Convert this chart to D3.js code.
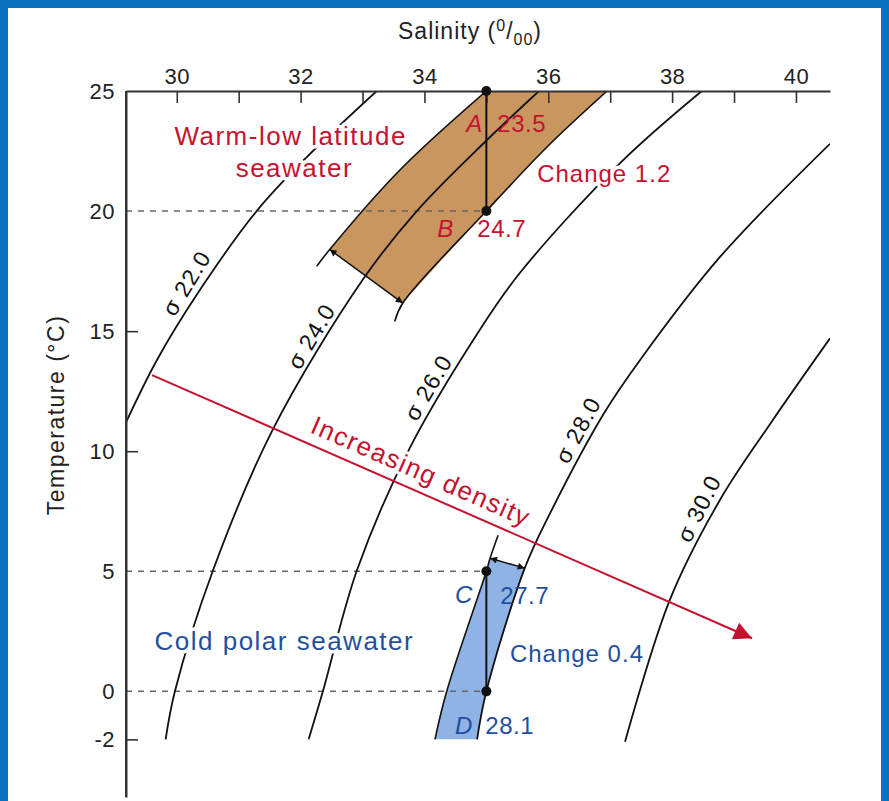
<!DOCTYPE html>
<html>
<head>
<meta charset="utf-8">
<script src="https://cdnjs.cloudflare.com/ajax/libs/d3/7.8.5/d3.min.js"></script>
<style>
	body { margin: 0; background: #fff; }
	svg { display: block; font-family: "Liberation Sans", Arial, Helvetica, sans-serif; }
</style>
</head>
<body>
<div id="chart"></div>
<script>
// axis ticks
var salinityTicks = [30, 31, 32, 33, 34, 35, 36, 37, 38, 39, 40];
var salinityLabels = [30, 32, 34, 36, 38, 40];
var tempTicks = [25, 20, 15, 10, 5, 0, -2];
var dashedTemps = [20, 5, 0];

// isopycnals: [salinity, temperature]
var sigma22 = [[33.23, 25], [32.10, 22.25], [31.29, 20.0], [30.37, 16.7], [29.68, 13.8], [29.18, 11.2]];
var sigma24 = [[35.85, 25], [35.01, 22.96], [33.89, 20.04], [33.0, 17.13], [31.55, 10.9], [30.58, 5.0], [29.97, 0], [29.82, -2.0]];
var sigma26 = [[38.48, 25], [37.16, 22.0], [35.54, 17.42], [34.89, 15.04], [33.76, 10.12], [32.91, 5.04], [32.36, 0], [32.13, -2.0]];
var sigma28 = [[40.55, 22.8], [38.77, 18.08], [37.48, 13.79], [36.9, 11.58], [36.03, 7.42], [35.62, 5.13], [35.0, 0], [34.85, -2.0]];
var sigma30 = [[40.55, 14.7], [39.6, 11.2], [38.77, 7.96], [37.96, 3.79], [37.24, -2.1]];
var sigmaNames = ["22.0", "24.0", "26.0", "28.0", "30.0"];

// band edges
var sigma235 = [[35.0, 25], [33.6, 21.7], [32.47, 18.4], [32.26, 17.7]];
var sigma247 = [[36.95, 25], [35.98, 22.67], [35.0, 20], [33.65, 16.17], [33.52, 15.4]];
var sigma277 = [[35.19, 6.5], [35.06, 5.54], [35.0, 5.0], [34.36, 0], [34.17, -2.0]];
var warmEnd = [[32.47, 18.4], [33.65, 16.17]];
var coldTop = [[35.06, 5.54], [35.62, 5.13]];

// sample waters
var pointNames = ["A", "B", "C", "D"];
var pointSalinity = [35, 35, 35, 35];
var pointTemp = [25, 20, 5, 0];
var pointSigma = ["23.5", "24.7", "27.7", "28.1"];
var warmChange = "1.2", coldChange = "0.4";

// density arrow
var arrowFrom = [29.6, 13.17], arrowTo = [39.29, 2.21];

function renderChart() {
	var W = 889, H = 801;
	var red = "#c41230", blue = "#1f4f9f";

	var svg = d3.select("#chart")
		.append("svg")
		.attr("width", W)
		.attr("height", H);

	// blue frame
	svg.append("rect").attr("width", W).attr("height", H).attr("fill", "#0a70c0");
	svg.append("rect").attr("x", 8).attr("y", 8).attr("width", W - 16).attr("height", H - 8).attr("fill", "#fff");

	var x = d3.scaleLinear().domain([29.18, 40.55]).range([126, 830]);
	var y = d3.scaleLinear().domain([-4.4, 25]).range([797, 91]);

	var defs = svg.append("defs");
	defs.append("clipPath").attr("id", "plot")
		.append("rect")
		.attr("x", x.range()[0]).attr("y", y.range()[1])
		.attr("width", x.range()[1] - x.range()[0])
		.attr("height", y.range()[0] - y.range()[1]);

	defs.append("marker")
		.attr("id", "redhead")
		.attr("viewBox", "0 -5 10 10")
		.attr("refX", 10).attr("refY", 0)
		.attr("markerUnits", "userSpaceOnUse")
		.attr("markerWidth", 26).attr("markerHeight", 18)
		.attr("orient", "auto")
		.append("path").attr("d", "M0,-5L10,0L0,5Z").attr("fill", red);

	defs.append("marker")
		.attr("id", "blackhead")
		.attr("viewBox", "0 -5 10 10")
		.attr("refX", 10).attr("refY", 0)
		.attr("markerUnits", "userSpaceOnUse")
		.attr("markerWidth", 9).attr("markerHeight", 7)
		.attr("orient", "auto-start-reverse")
		.append("path").attr("d", "M0,-5L10,0L0,5Z").attr("fill", "#111");

	var line = d3.line()
		.x(function (d) { return x(d[0]); })
		.y(function (d) { return y(d[1]); })
		.curve(d3.curveCatmullRom);

	// shaded bands
	svg.append("path")
		.attr("d", line(sigma235.slice(0, 3)) + line(sigma247.slice(0, 4).reverse()).replace(/^M/, "L") + "Z")
		.attr("fill", "#c99660");

	svg.append("path")
		.attr("d", line(sigma277.slice(1)) + line(sigma28.slice(5).reverse()).replace(/^M/, "L") + "Z")
		.attr("fill", "#8fb3e5");

	// dashed guides
	svg.selectAll("line.guide")
		.data(dashedTemps)
		.enter()
		.append("line")
		.attr("class", "guide")
		.attr("x1", x.range()[0])
		.attr("x2", x(35))
		.attr("y1", function (d) { return y(d); })
		.attr("y2", function (d) { return y(d); })
		.attr("stroke", "#666")
		.attr("stroke-width", 1.5)
		.attr("stroke-dasharray", "6,6");

	// isopycnals
	var curves = [sigma22, sigma24, sigma26, sigma28, sigma30];
	var g = svg.append("g").attr("clip-path", "url(#plot)");
	g.selectAll("path.sigma")
		.data(curves)
		.enter()
		.append("path")
		.attr("class", "sigma")
		.attr("d", line)
		.attr("fill", "none")
		.attr("stroke", "#111")
		.attr("stroke-width", 1.8);

	g.selectAll("path.edge")
		.data([sigma235, sigma247, sigma277])
		.enter()
		.append("path")
		.attr("class", "edge")
		.attr("d", line)
		.attr("fill", "none")
		.attr("stroke", "#111")
		.attr("stroke-width", 1.6);

	// width arrows at band ends
	svg.selectAll("line.width")
		.data([warmEnd, coldTop])
		.enter()
		.append("line")
		.attr("class", "width")
		.attr("x1", function (d) { return x(d[0][0]); })
		.attr("y1", function (d) { return y(d[0][1]); })
		.attr("x2", function (d) { return x(d[1][0]); })
		.attr("y2", function (d) { return y(d[1][1]); })
		.attr("stroke", "#111")
		.attr("stroke-width", 1.5)
		.attr("marker-start", "url(#blackhead)")
		.attr("marker-end", "url(#blackhead)");

	// increasing density arrow
	svg.append("line")
		.attr("x1", x(arrowFrom[0])).attr("y1", y(arrowFrom[1]))
		.attr("x2", x(arrowTo[0])).attr("y2", y(arrowTo[1]))
		.attr("stroke", red)
		.attr("stroke-width", 2)
		.attr("marker-end", "url(#redhead)");

	// axes
	var xAxis = svg.append("g")
		.attr("transform", "translate(0," + y(25) + ")")
		.call(d3.axisTop(x).tickValues(salinityTicks).tickSize(-12).tickSizeOuter(0).tickPadding(7)
			.tickFormat(function (d) { return salinityLabels.indexOf(d) >= 0 ? d : ""; }));

	var yAxis = svg.append("g")
		.attr("transform", "translate(" + x.range()[0] + ",0)")
		.call(d3.axisLeft(y).tickValues(tempTicks).tickSize(-12).tickSizeOuter(0).tickPadding(11)
			.tickFormat(function (d) { return String(d); }));

	yAxis.selectAll(".tick line")
		.filter(function (d) { return dashedTemps.indexOf(d) >= 0 || d == 25; })
		.remove();

	[xAxis, yAxis].forEach(function (ax) {
		ax.select(".domain").attr("stroke", "#333").attr("stroke-width", 2);
		ax.selectAll(".tick line").attr("stroke", "#333").attr("stroke-width", 1.6);
		ax.selectAll(".tick text")
			.attr("fill", "#222")
			.style("font-size", "22px")
			.style("letter-spacing", "0.5px")
			.style("font-family", "Liberation Sans, Arial, sans-serif");
	});

	svg.append("line")
		.attr("x1", x.range()[0]).attr("x2", x.range()[0])
		.attr("y1", y(25)).attr("y2", y.range()[0])
		.attr("stroke", "#333").attr("stroke-width", 2);

	// axis titles
	var sal = svg.append("text")
		.attr("x", 470)
		.attr("y", 39)
		.attr("text-anchor", "middle")
		.style("font-size", "23px")
		.style("letter-spacing", "1px")
		.attr("fill", "#222");
	sal.append("tspan").text("Salinity (");
	sal.append("tspan").attr("dy", -8).style("font-size", "16px").text("0");
	sal.append("tspan").attr("dy", 8).text("/");
	sal.append("tspan").attr("dy", 6).style("font-size", "16px").text("00");
	sal.append("tspan").attr("dy", -6).text(")");

	svg.append("text")
		.attr("transform", "translate(64," + 415 + ") rotate(-90)")
		.attr("text-anchor", "middle")
		.style("font-size", "23px")
		.style("letter-spacing", "1.5px")
		.attr("fill", "#222")
		.text("Temperature (\u00B0C)");

	// sample verticals and dots
	svg.selectAll("line.pair")
		.data([[0, 1], [2, 3]])
		.enter()
		.append("line")
		.attr("class", "pair")
		.attr("x1", function (d) { return x(pointSalinity[d[0]]); })
		.attr("x2", function (d) { return x(pointSalinity[d[1]]); })
		.attr("y1", function (d) { return y(pointTemp[d[0]]); })
		.attr("y2", function (d) { return y(pointTemp[d[1]]); })
		.attr("stroke", "#111")
		.attr("stroke-width", 2);

	svg.selectAll("circle.pt")
		.data(pointNames)
		.enter()
		.append("circle")
		.attr("class", "pt")
		.attr("cx", function (d, i) { return x(pointSalinity[i]); })
		.attr("cy", function (d, i) { return y(pointTemp[i]); })
		.attr("r", 5)
		.attr("fill", "#111");

	// sigma labels along the curves
	function labelSpot(pts, t) {
		for (var i = 0; i < pts.length - 1; i++) {
			var a = pts[i], b = pts[i + 1];
			if (t <= a[1] && t >= b[1]) {
				var f = (a[1] - t) / (a[1] - b[1]);
				var ax = x(a[0]), ay = y(a[1]), bx = x(b[0]), by = y(b[1]);
				return {
					x: ax + f * (bx - ax),
					y: ay + f * (by - ay),
					angle: Math.atan2(ay - by, ax - bx) * 180 / Math.PI
				};
			}
		}
	}
	var labelTemps = [16.67, 14.46, 12.33, 10.58, 7.33];
	svg.selectAll("text.sig")
		.data(curves)
		.enter()
		.append("text")
		.attr("class", "sig")
		.attr("transform", function (d, i) {
			var p = labelSpot(d, labelTemps[i]);
			return "translate(" + p.x + "," + p.y + ") rotate(" + p.angle + ")";
		})
		.attr("y", -7)
		.attr("text-anchor", "middle")
		.style("font-size", "23px")
		.style("letter-spacing", "1px")
		.attr("fill", "#111")
		.text(function (d, i) { return "\u03C3 " + sigmaNames[i]; });

	// annotation helper
	function note(txt, s, t, color, size, opts) {
		opts = opts || {};
		var el = svg.append("text")
			.attr("x", x(s) + (opts.dx || 0))
			.attr("y", y(t) + (opts.dy || 0))
			.attr("text-anchor", opts.anchor || "start")
			.attr("fill", color)
			.style("font-size", size + "px")
			.style("letter-spacing", (opts.ls || 0) + "px")
			.text(txt);
		if (opts.italic) el.style("font-style", "italic");
		if (opts.halo) {
			el.attr("stroke", "#fff")
				.attr("stroke-width", 7)
				.attr("stroke-linejoin", "round")
				.style("paint-order", "stroke");
		}
		return el;
	}

	note("Warm-low latitude", 31.84, 22.75, red, 26, { anchor: "middle", ls: 1.5, halo: true });
	note("seawater", 31.9, 21.42, red, 26, { anchor: "middle", ls: 1.5, halo: true });
	note("Change " + warmChange, 35.82, 21.2, red, 24, { ls: 1, halo: true });
	note("Cold polar seawater", 29.64, 1.71, blue, 26, { ls: 1.5, halo: true });
	note("Change " + coldChange, 35.38, 1.21, blue, 24, { ls: 1, halo: true });

	// point labels
	var nameOff = [[-4, 41], [-33, 26], [-14, 32], [-14, 43]];
	var valOff = [[11, 41], [-9, 26], [14, 33], [-1, 43]];
	pointNames.forEach(function (nm, i) {
		var c = i < 2 ? red : blue;
		note(nm, pointSalinity[i], pointTemp[i], c, 24, { anchor: "end", italic: true, dx: nameOff[i][0], dy: nameOff[i][1] });
		note(pointSigma[i], pointSalinity[i], pointTemp[i], c, 24, { ls: 0.5, dx: valOff[i][0], dy: valOff[i][1] });
	});

	// text along the density arrow
	var ax0 = x(arrowFrom[0]), ay0 = y(arrowFrom[1]), ax1 = x(arrowTo[0]), ay1 = y(arrowTo[1]);
	var ang = Math.atan2(ay1 - ay0, ax1 - ax0) * 180 / Math.PI;
	var mx = ax0 + 0.435 * (ax1 - ax0), my = ay0 + 0.435 * (ay1 - ay0);
	svg.append("text")
		.attr("transform", "translate(" + mx + "," + my + ") rotate(" + ang + ")")
		.attr("y", -11)
		.attr("text-anchor", "middle")
		.attr("fill", red)
		.style("font-size", "26px")
		.style("letter-spacing", "1.5px")
		.attr("stroke", "#fff")
		.attr("stroke-width", 6)
		.attr("stroke-linejoin", "round")
		.style("paint-order", "stroke")
		.text("Increasing density");
}

renderChart();
</script>
</body>
</html>
